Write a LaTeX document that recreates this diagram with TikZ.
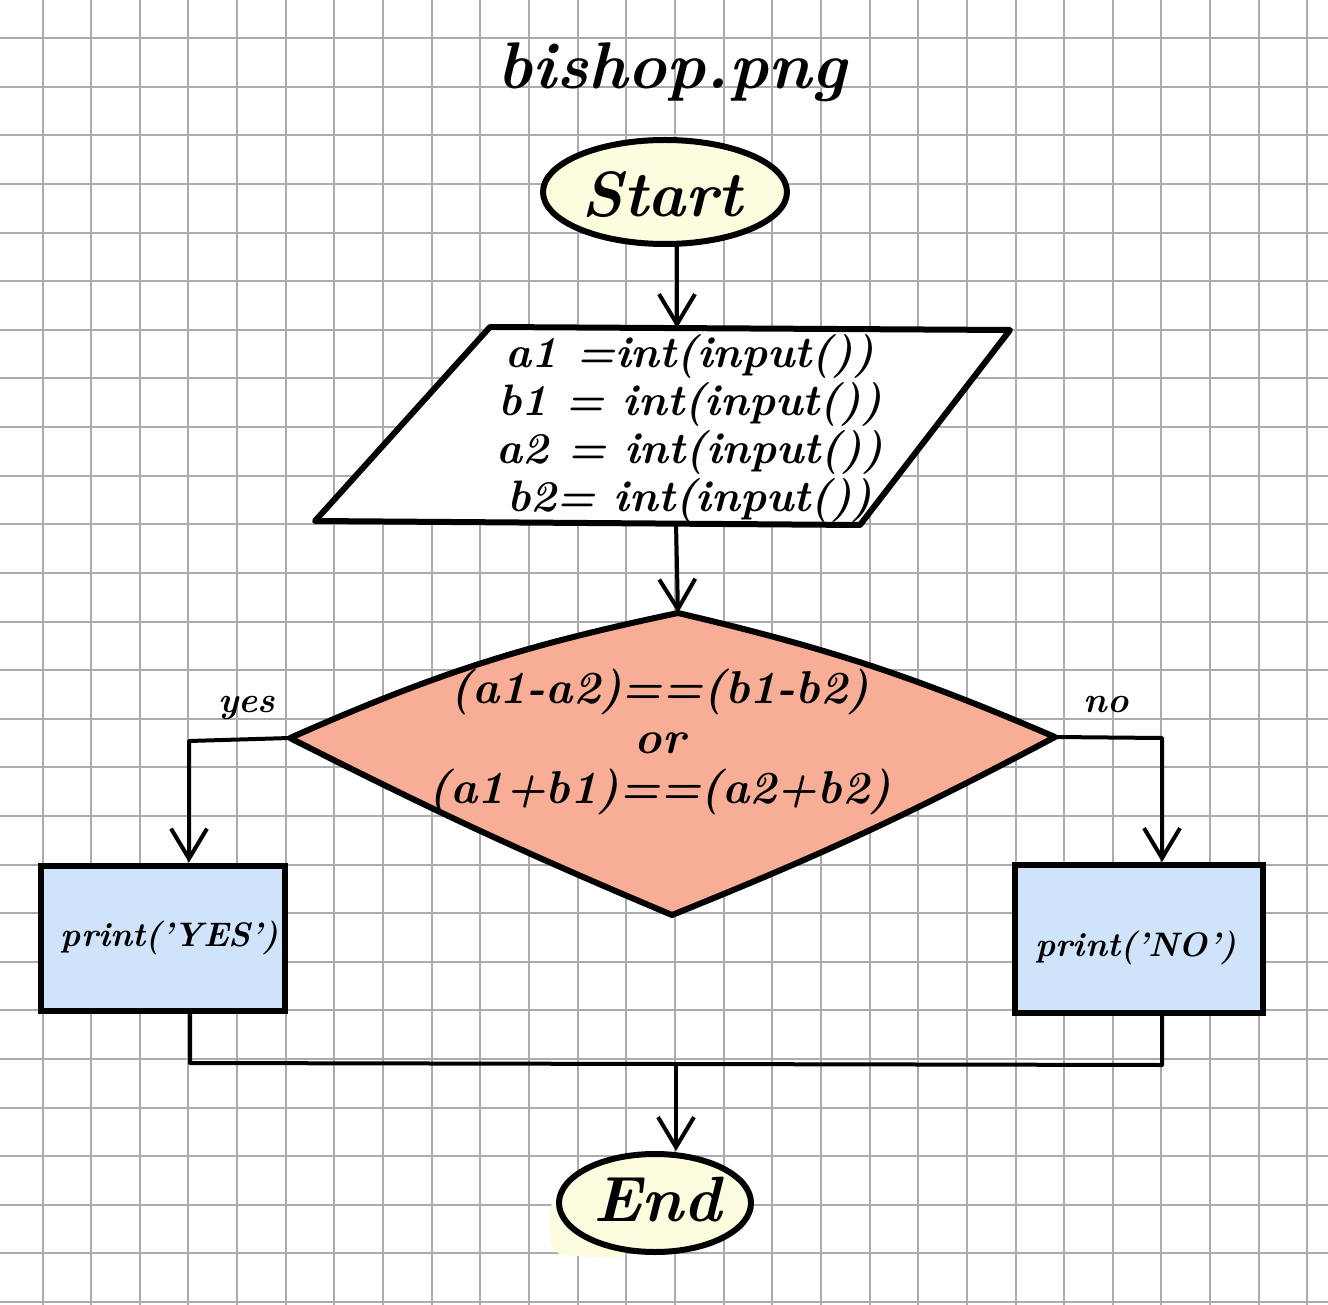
\documentclass[tikz,border=0pt]{standalone}
\usetikzlibrary{arrows.meta,shapes.geometric}
\definecolor{gridc}{RGB}{172,172,172}
\definecolor{termfill}{RGB}{252,252,222}
\definecolor{decfill}{RGB}{248,174,150}
\definecolor{boxfill}{RGB}{207,228,250}
\begin{document}
\begin{tikzpicture}[x=1pt,y=-1pt,
  conn/.style={line width=4pt, line cap=round, line join=round},
  arr/.style={conn, -{Straight Barb[length=30pt,width=36pt,line width=4pt]}},
  shapeline/.style={line width=6pt, line join=round, line cap=round},
  terminal/.style={ellipse, draw, line width=6pt, fill=termfill, inner sep=0pt},
  outbox/.style={rectangle, draw, line width=6pt, fill=boxfill, inner sep=0pt},
  titletxt/.style={font=\fontsize{66}{72}\selectfont\bfseries\itshape},
  termtxt/.style={font=\fontsize{64}{70}\selectfont\bfseries\itshape},
  codetxt/.style={font=\fontsize{44}{48}\selectfont\bfseries\itshape, align=center},
  dectxt/.style={font=\fontsize{46}{50}\selectfont\bfseries\itshape, align=center},
  boxtxt/.style={font=\fontsize{34}{40}\selectfont\bfseries\itshape},
  lbltxt/.style={font=\fontsize{36}{40}\selectfont\bfseries\itshape}
]
\useasboundingbox (0,0) rectangle (1328,1305);
\fill[white] (0,0) rectangle (1328,1305);
% grid paper
\foreach \k in {0,...,26} {
  \draw[gridc, line width=2pt] ({42.5+48.65*\k},0) -- ({42.5+48.65*\k},1305);
  \draw[gridc, line width=2pt] (0,{38.3+48.6*\k}) -- (1328,{38.3+48.6*\k});
}
% title
\node[titletxt] (title) at (672,72) {bishop.png};
% start
\node[terminal, minimum width=244pt, minimum height=104pt] (start) at (665,192) {};
\node[termtxt] (starttxt) at (662,195) {Start};
% parallelogram
\coordinate (pTL) at (490,327);
\coordinate (pTR) at (1010,330);
\coordinate (pBR) at (860,525);
\coordinate (pBL) at (315,521);
\coordinate (pT) at (677,328);
\coordinate (pB) at (676,523);
\draw[shapeline, fill=white] (pTL) -- (pTR) -- (pBR) -- (pBL) -- cycle;
\node[codetxt] (ptext) at (690,428) {a1 =int(input())\\b1 = int(input())\\a2 = int(input())\\b2= int(input())};
% diamond
\coordinate (dT) at (678,613);
\coordinate (dR) at (1055,737);
\coordinate (dB) at (672,915);
\coordinate (dL) at (290,738);
\draw[shapeline, fill=decfill] (dT) to[bend left=5] (dR) to[bend left=3] (dB) to[bend left=2] (dL) to[bend left=6] (dT) -- cycle;
\node[dectxt] (dtext) at (660,742) {(a1-a2)==(b1-b2)\\or\\(a1+b1)==(a2+b2)};
% outputs
\node[outbox, minimum width=244pt, minimum height=145pt] (yes) at (163,938) {};
\node[boxtxt] (yestxt) at (170,938) {print('YES')};
\node[outbox, minimum width=248pt, minimum height=148pt] (no) at (1139,939) {};
\node[boxtxt] (notxt) at (1136,948) {print('NO')};
% end
\fill[termfill, rounded corners=14pt] (548,1200) -- (620,1190) -- (630,1258) -- (552,1255) -- cycle;
\node[terminal, minimum width=192pt, minimum height=98pt] (endn) at (655,1203) {};
\node[termtxt] (endtxt) at (657,1200) {End};
% labels
\node[lbltxt] (yeslbl) at (247,708) {yes};
\node[lbltxt] (nolbl) at (1106,705) {no};
% connectors
\draw[arr] (start.south -| pT) -- (pT);
\draw[arr] (pB) -- (dT);
\coordinate (yesTurn) at (189,741);
\coordinate (noTurn) at (1162,738);
\draw[arr] (dL) -- (yesTurn) -- (yesTurn |- yes.north);
\draw[arr] (dR) -- (noTurn) -- (noTurn |- no.north);
\coordinate (mL) at (190,1063);
\coordinate (mR) at (1162,1065);
\coordinate (mJ) at (676,1064);
\draw[conn] (yes.south -| mL) -- (mL) -- (mR) -- (no.south -| mR);
\draw[arr] (mJ) -- (mJ |- endn.north);
\end{tikzpicture}
\end{document}
